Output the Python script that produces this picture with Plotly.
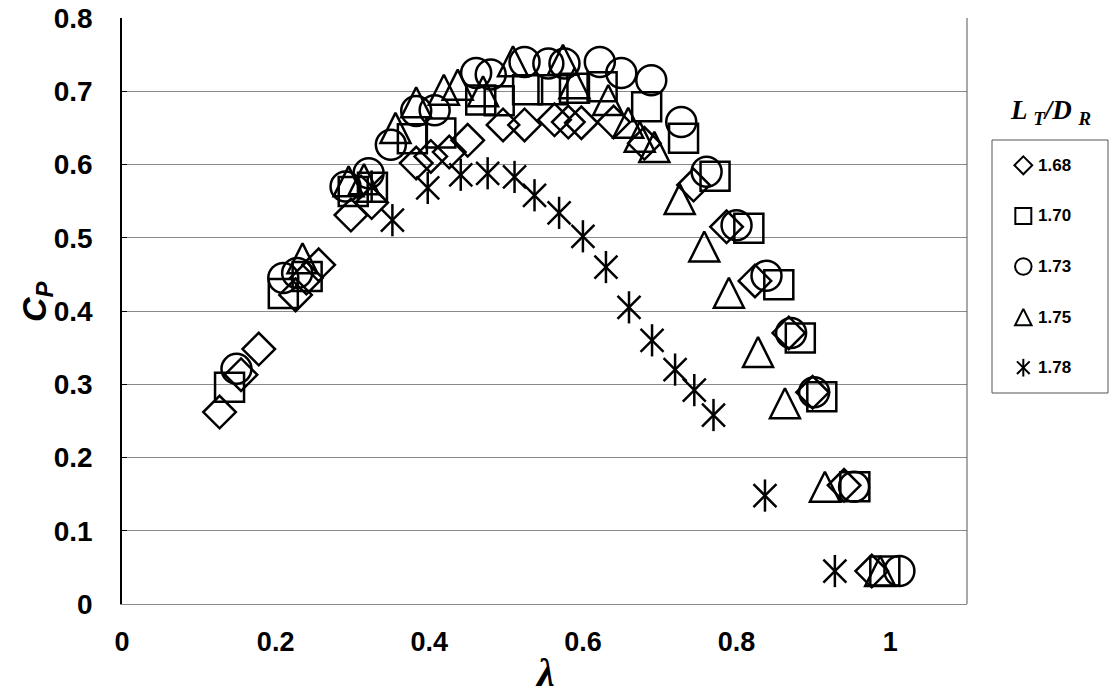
import plotly.graph_objects as go

# Series labels: tail-length ratio L_T / D_R
ratios = ["1.68", "1.70", "1.73", "1.75", "1.78"]

# Tip-speed ratio (lambda) and power coefficient (Cp) for each ratio
lam_168 = [0.127, 0.155, 0.178, 0.226, 0.240, 0.256, 0.298, 0.325, 0.383, 0.402, 0.426, 0.450,
           0.496, 0.524, 0.563, 0.581, 0.598, 0.640, 0.680, 0.744, 0.787, 0.824, 0.868, 0.899,
           0.940, 0.976]
cp_168 = [0.262, 0.313, 0.348, 0.422, 0.445, 0.463, 0.531, 0.548, 0.602, 0.611, 0.617, 0.633,
          0.654, 0.654, 0.661, 0.658, 0.657, 0.658, 0.629, 0.572, 0.515, 0.441, 0.370, 0.289,
          0.162, 0.045]

lam_170 = [0.140, 0.210, 0.241, 0.301, 0.326, 0.378, 0.415, 0.467, 0.491, 0.528, 0.561, 0.589,
           0.625, 0.683, 0.731, 0.772, 0.816, 0.855, 0.883, 0.911, 0.954, 0.993]
cp_170 = [0.296, 0.424, 0.447, 0.563, 0.569, 0.635, 0.643, 0.688, 0.687, 0.702, 0.702, 0.704,
          0.706, 0.679, 0.636, 0.584, 0.513, 0.436, 0.363, 0.283, 0.160, 0.045]

lam_173 = [0.149, 0.210, 0.228, 0.291, 0.321, 0.350, 0.383, 0.407, 0.461, 0.480, 0.524, 0.555,
           0.576, 0.622, 0.650, 0.689, 0.728, 0.761, 0.800, 0.839, 0.871, 0.901, 0.953, 1.012]
cp_173 = [0.321, 0.445, 0.452, 0.570, 0.588, 0.627, 0.673, 0.674, 0.725, 0.723, 0.740, 0.738,
          0.738, 0.740, 0.725, 0.715, 0.658, 0.590, 0.517, 0.448, 0.370, 0.289, 0.160, 0.045]

lam_175 = [0.235, 0.295, 0.315, 0.356, 0.383, 0.419, 0.437, 0.470, 0.509, 0.574, 0.589, 0.633,
           0.659, 0.674, 0.693, 0.726, 0.758, 0.790, 0.828, 0.863, 0.915, 0.987]
cp_175 = [0.472, 0.577, 0.580, 0.650, 0.685, 0.702, 0.709, 0.700, 0.741, 0.743, 0.711, 0.688,
          0.657, 0.638, 0.624, 0.553, 0.488, 0.425, 0.344, 0.274, 0.160, 0.045]

lam_178 = [0.325, 0.352, 0.398, 0.441, 0.476, 0.511, 0.537, 0.569, 0.600, 0.630, 0.660, 0.690,
           0.720, 0.745, 0.770, 0.837, 0.928]
cp_178 = [0.570, 0.524, 0.568, 0.586, 0.588, 0.583, 0.558, 0.534, 0.502, 0.460, 0.405, 0.360,
          0.320, 0.292, 0.258, 0.148, 0.045]

x_ticks = [0, 0.2, 0.4, 0.6, 0.8, 1.0]
x_ticktext = ["0", "0.2", "0.4", "0.6", "0.8", "1"]
y_ticks = [0, 0.1, 0.2, 0.3, 0.4, 0.5, 0.6, 0.7, 0.8]

W, H = 1113, 700
INK = "black"
LW = 2.5
SANS = "Liberation Sans, Arial, sans-serif"
SERIF = "Liberation Serif, Times New Roman, serif"

# marker styles: (symbol list, size)
styles = [
    (["diamond-open"], 25),
    (["square-open"], 29),
    (["circle-open"], 30),
    (["arrow-down-open"], 30),
    (["x-thin-open", "line-ns-open"], 23),
]
series = [(lam_168, cp_168), (lam_170, cp_170), (lam_173, cp_173),
          (lam_175, cp_175), (lam_178, cp_178)]


def marker(sym, size, lw):
    m = dict(symbol=sym, size=size, color=INK, line=dict(color=INK, width=lw))
    if sym.startswith("arrow"):
        # upright triangle centred on the point
        m.update(angle=180, standoff=size / 2)
    return m


fig = go.Figure()

for (xs, ys), (syms, size) in zip(series, styles):
    for sym in syms:
        fig.add_trace(go.Scatter(x=xs, y=ys, mode="markers", showlegend=False,
                                 marker=marker(sym, size, LW),
                                 xaxis="x", yaxis="y", hoverinfo="x+y"))

# key panel on its own small axes
legend_scale = 0.55
for i, ((syms, size), label) in enumerate(zip(styles, ratios)):
    for sym in syms:
        fig.add_trace(go.Scatter(x=[0.27], y=[i + 0.5], mode="markers", showlegend=False,
                                 marker=marker(sym, size * legend_scale, 2),
                                 xaxis="x2", yaxis="y2", hoverinfo="skip"))
    fig.add_annotation(x=0.38, y=i + 0.5, xref="x2", yref="y2", text="<b>%s</b>" % label,
                       showarrow=False, xanchor="left", yanchor="middle",
                       font=dict(family=SANS, size=17, color=INK))

x0, x1 = 122 / W, 967 / W
y0, y1 = 1 - 604 / H, 1 - 18 / H

fig.update_layout(
    width=W, height=H,
    margin=dict(l=0, r=0, t=0, b=0, autoexpand=False),
    paper_bgcolor="white", plot_bgcolor="white",
    showlegend=False,
    xaxis=dict(domain=[x0, x1], range=[0, 1.1], tickvals=x_ticks, ticktext=x_ticktext,
               showgrid=False, zeroline=False, showline=True, linecolor="#8a8a8a", linewidth=1,
               ticks="", ticklabelstandoff=14, automargin=False,
               tickfont=dict(family=SANS, size=27, color=INK, weight="bold")),
    yaxis=dict(domain=[y0, y1], range=[0, 0.8], tickvals=y_ticks,
               showgrid=True, gridcolor="#8a8a8a", gridwidth=1, zeroline=False,
               showline=True, linecolor=INK, linewidth=1.5, automargin=False,
               ticks="inside", ticklen=5, tickcolor=INK, ticklabelstandoff=22,
               tickfont=dict(family=SANS, size=28, color=INK, weight="bold")),
    xaxis2=dict(domain=[992 / W, 1108 / W], range=[0, 1], visible=False, fixedrange=True,
                anchor="y2"),
    yaxis2=dict(domain=[1 - 393 / H, 1 - 140 / H], range=[5, 0], visible=False, fixedrange=True,
                anchor="x2"),
)

# right border of the plot area and the key frame
fig.add_shape(type="line", xref="x domain", yref="y domain", x0=1, x1=1, y0=0, y1=1,
              line=dict(color="#555555", width=1))
fig.add_shape(type="rect", xref="x2 domain", yref="y2 domain", x0=0, x1=1, y0=0, y1=1,
              line=dict(color="#555555", width=1))

# axis titles and key title
fig.add_annotation(x=545 / W, y=1 - 672 / H, xref="paper", yref="paper", showarrow=False,
                   xanchor="center", yanchor="middle", text="<b><i>λ</i></b>",
                   font=dict(family=SERIF, size=40, color=INK))
fig.add_annotation(x=36 / W, y=1 - 302 / H, xref="paper", yref="paper", showarrow=False,
                   xanchor="center", yanchor="middle",
                   textangle=-90, text="<b><i>C<sub>P</sub></i></b>",
                   font=dict(family=SANS, size=34, color=INK))
fig.add_annotation(x=1050 / W, y=1 - 112 / H, xref="paper", yref="paper", showarrow=False,
                   xanchor="center", yanchor="middle",
                   text="<b><i>L <sub>T</sub>/D <sub>R</sub></i></b>",
                   font=dict(family=SERIF, size=27, color=INK))

fig.write_html("out.html")
